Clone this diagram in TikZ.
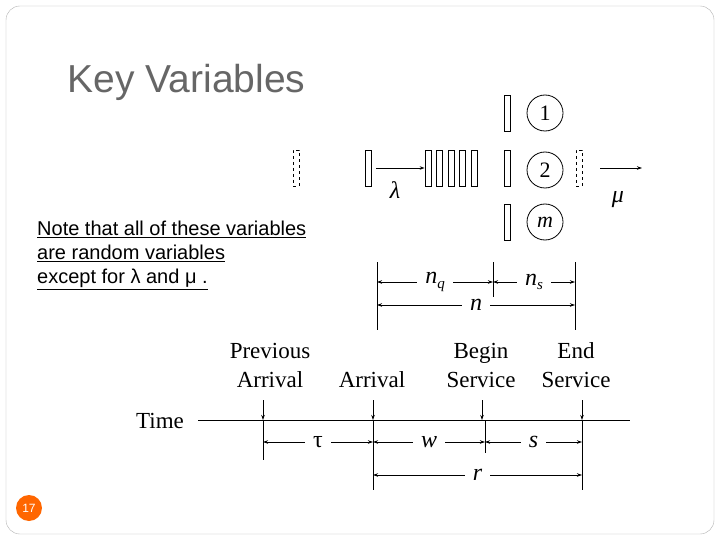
\documentclass[tikz,border=0pt]{standalone}
\usepackage{fontspec}
\setmainfont{Liberation Serif}
\setsansfont{Liberation Sans}
\usetikzlibrary{arrows.meta}
\begin{document}
\begin{tikzpicture}[x=1pt,y=-1pt,
  bar/.style={draw,thick,minimum width=6pt,minimum height=36pt,inner sep=0pt},
  dbar/.style={bar,dashed,thin},
  srv/.style={draw,thick,circle,minimum size=36pt,inner sep=0pt,font=\fontsize{22}{22}\selectfont},
  arr/.style={-{Stealth[length=5pt,width=3.5pt]},thick},
  dim/.style={{Stealth[length=5pt,width=3.5pt]}-{Stealth[length=5pt,width=3.5pt]},thick},
  lab/.style={fill=white,inner xsep=8pt,inner ysep=2pt,font=\fontsize{24}{24}\selectfont\itshape},
  txt/.style={font=\fontsize{23}{29}\selectfont,align=center}]
\useasboundingbox (0,0) rectangle (720,540);
\draw[gray!60,rounded corners=14pt] (6,6) rectangle (714,534);
\node[anchor=west,gray!80!black,font=\sffamily\fontsize{39}{39}\selectfont] (title) at (64,82) {Key Variables};
\node[circle,fill=orange!80!red,text=white,minimum size=26pt,inner sep=0pt,font=\sffamily\fontsize{12}{12}\selectfont] (pg) at (29,508) {17};
% servers
\node[bar] (b1) at (507,113) {};
\node[bar] (b2) at (507,168) {};
\node[bar] (b3) at (507,222) {};
\node[srv] (c1) at (545,113) {1};
\node[srv] (c2) at (545,170) {2};
\node[srv] (c3) at (545,222) {\textit{m}};
\node[dbar] (d1) at (296,168) {};
\node[bar] (a1) at (368,168) {};
\foreach \i/\x in {1/428,2/439.5,3/451,4/462.5,5/474}
  \node[bar] (q\i) at (\x,168) {};
\node[dbar] (d2) at (579,168) {};
\coordinate (mu1) at (600,168);
\coordinate (mu2) at (642,168);
\draw[arr] (a1.east)++(5,0) coordinate (la) -- (q1.west);
\draw[arr] (mu1) -- (mu2);
\node[font=\fontsize{24}{24}\selectfont\itshape] (lam) at (395,190) {λ};
\node[font=\fontsize{24}{24}\selectfont\itshape] (mu) at (618,200) {μ};
% dims top
\coordinate (v1t) at (377,262); \coordinate (v1b) at (377,330);
\coordinate (v2t) at (493,262); \coordinate (v2b) at (493,297);
\coordinate (v3t) at (575,262); \coordinate (v3b) at (575,330);
\draw[thick] (v1t) -- (v1b) (v2t) -- (v2b) (v3t) -- (v3b);
\draw[dim] (377,282) -- node[lab] (nq) {n\raisebox{-5pt}{\fontsize{15}{15}\selectfont q}} (493,282);
\draw[dim] (493,282) -- node[lab] (ns) {n\raisebox{-4pt}{\fontsize{15}{15}\selectfont s}} (575,282);
\draw[dim] (377,305) -- node[lab] (nn) {n} (575,305);
% note
\node[anchor=north west,align=left,inner sep=0pt,font=\sffamily\fontsize{20}{24}\selectfont] (note) at (37,221)
 {\underline{Note that all of these variables}\\\underline{are random variables}\\\underline{except for λ and μ .}};
% timeline
\node[txt] (prev) at (270,365) {Previous\\Arrival};
\node[txt] (arrv) at (372,380) {Arrival};
\node[txt] (beg) at (481,365) {Begin\\Service};
\node[txt] (endd) at (576,365) {End\\Service};
\node[txt] (time) at (160,421) {Time};
\coordinate (tl) at (198,420); \coordinate (tr) at (630,420);
\draw[thick] (tl) -- (tr);
\foreach \x in {263,373,482,582} \draw[arr] (\x,400) -- (\x,420);
\draw[thick] (263,420) -- (263,460) (373,420) -- (373,490) (485,420) -- (485,453) (582,420) -- (582,490);
\draw[dim] (263,442) -- node[lab,font=\fontsize{24}{24}\selectfont\upshape] (tau) {τ} (373,442);
\draw[dim] (373,442) -- node[lab] (w) {w} (485,442);
\draw[dim] (485,442) -- node[lab] (s) {s} (582,442);
\draw[dim] (373,475) -- node[lab] (r) {r} (582,475);
\end{tikzpicture}
\end{document}
